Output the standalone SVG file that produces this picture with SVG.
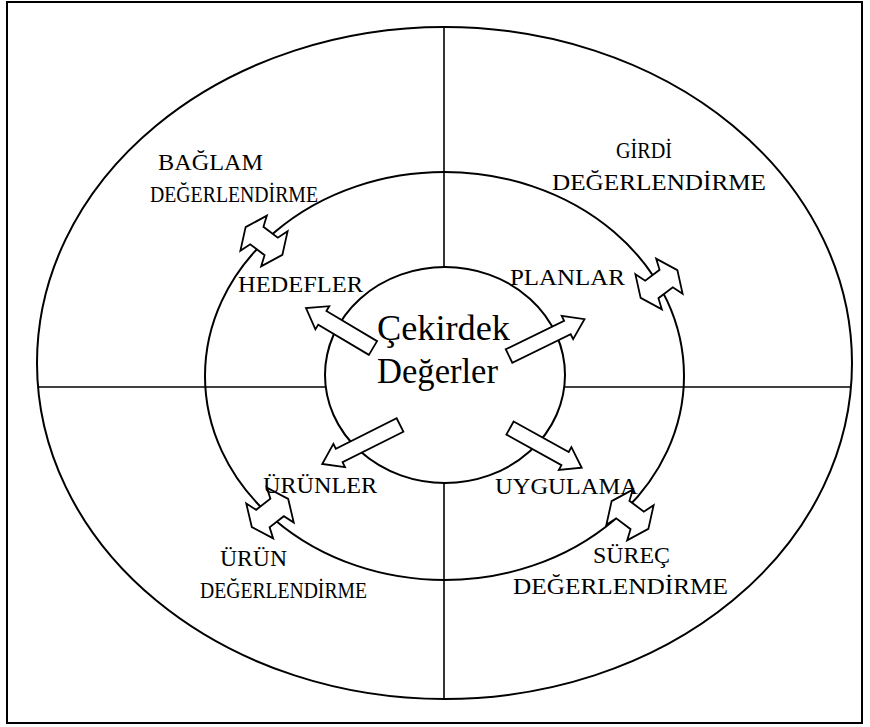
<svg xmlns="http://www.w3.org/2000/svg" width="870" height="727" viewBox="0 0 870 727">
<style>
.ln{fill:none;stroke:#000;stroke-width:2}
.dv{fill:none;stroke:#000;stroke-width:1.6}
.ar{fill:#fff;stroke:#000;stroke-width:1.8;stroke-linejoin:miter}
.t{font-family:"Liberation Serif","Times New Roman",serif;font-size:23px;fill:#000}
.c{font-family:"Liberation Serif","Times New Roman",serif;font-size:35px;fill:#000}
</style>
<defs>
<path id="dbl" d="M-23,0 L-13,-22 L-9,-11 L9,-11 L13,-22 L23,0 L13,22 L9,11 L-9,11 L-13,22 Z"/>
</defs>
<rect x="7" y="2" width="855" height="721" fill="#fff" stroke="#000" stroke-width="2"/>
<g id="rings">
<ellipse id="outer" class="ln" cx="444.5" cy="363" rx="407.5" ry="336"/>
<ellipse id="middle" class="ln" cx="444.5" cy="376" rx="239.5" ry="204"/>
<ellipse id="core" class="ln" cx="445" cy="375" rx="120" ry="108"/>
</g>
<g id="dividers">
<line class="dv" x1="444" y1="27" x2="444" y2="267"/>
<line class="dv" x1="444" y1="483" x2="444" y2="699"/>
<line class="dv" x1="38" y1="387" x2="325.5" y2="387"/>
<line class="dv" x1="564.5" y1="387" x2="851" y2="387"/>
</g>
<g id="connectors">
<g id="arrow-hedefler"><path class="ar" transform="translate(373,348) rotate(210.8)" d="M0,-8 L59,-8 L59,-13.5 L78,0 L59,13.5 L59,8 L0,8 Z"/></g>
<g id="arrow-planlar"><path class="ar" transform="translate(509,356) rotate(-26)" d="M0,-7.5 L65,-7.5 L65,-13 L84,0 L65,13 L65,7.5 L0,7.5 Z"/></g>
<g id="arrow-urunler"><path class="ar" transform="translate(400,425) rotate(153.4)" d="M0,-7.5 L68,-7.5 L68,-13 L87,0 L68,13 L68,7.5 L0,7.5 Z"/></g>
<g id="arrow-uygulama"><path class="ar" transform="translate(510,428) rotate(29)" d="M0,-7.5 L63,-7.5 L63,-13 L82,0 L63,13 L63,7.5 L0,7.5 Z"/></g>
<g id="dbl-baglam"><use href="#dbl" class="ar" transform="translate(264,241) rotate(37)"/></g>
<g id="dbl-girdi"><use href="#dbl" class="ar" transform="translate(659,284) rotate(-37)"/></g>
<g id="dbl-urun"><use href="#dbl" class="ar" transform="translate(270,513) rotate(-37.7)"/></g>
<g id="dbl-surec"><use href="#dbl" class="ar" transform="translate(630,515) rotate(37)"/></g>
</g>
<g id="node-core">
<text class="c" x="377" y="340" textLength="133" lengthAdjust="spacingAndGlyphs">Çekirdek</text>
<text class="c" x="377" y="383" textLength="121" lengthAdjust="spacingAndGlyphs">Değerler</text>
</g>
<g id="node-hedefler"><text class="t" x="238" y="292" textLength="125" lengthAdjust="spacingAndGlyphs">HEDEFLER</text></g>
<g id="node-planlar"><text class="t" x="510" y="285" textLength="115" lengthAdjust="spacingAndGlyphs">PLANLAR</text></g>
<g id="node-urunler"><text class="t" x="263" y="493" textLength="114" lengthAdjust="spacingAndGlyphs">ÜRÜNLER</text></g>
<g id="node-uygulama"><text class="t" x="495" y="494" textLength="143" lengthAdjust="spacingAndGlyphs">UYGULAMA</text></g>
<g id="node-baglam">
<text class="t" x="158" y="170" textLength="105" lengthAdjust="spacingAndGlyphs">BAĞLAM</text>
<text class="t" x="150" y="202" textLength="168" lengthAdjust="spacingAndGlyphs">DEĞERLENDİRME</text>
</g>
<g id="node-girdi">
<text class="t" x="616" y="158" textLength="56" lengthAdjust="spacingAndGlyphs">GİRDİ</text>
<text class="t" x="552" y="190" textLength="214" lengthAdjust="spacingAndGlyphs">DEĞERLENDİRME</text>
</g>
<g id="node-urun">
<text class="t" x="220" y="566" textLength="67" lengthAdjust="spacingAndGlyphs">ÜRÜN</text>
<text class="t" x="200" y="598" textLength="167" lengthAdjust="spacingAndGlyphs">DEĞERLENDİRME</text>
</g>
<g id="node-surec">
<text class="t" x="593" y="563" textLength="77" lengthAdjust="spacingAndGlyphs">SÜREÇ</text>
<text class="t" x="513" y="594" textLength="215" lengthAdjust="spacingAndGlyphs">DEĞERLENDİRME</text>
</g>
</svg>
